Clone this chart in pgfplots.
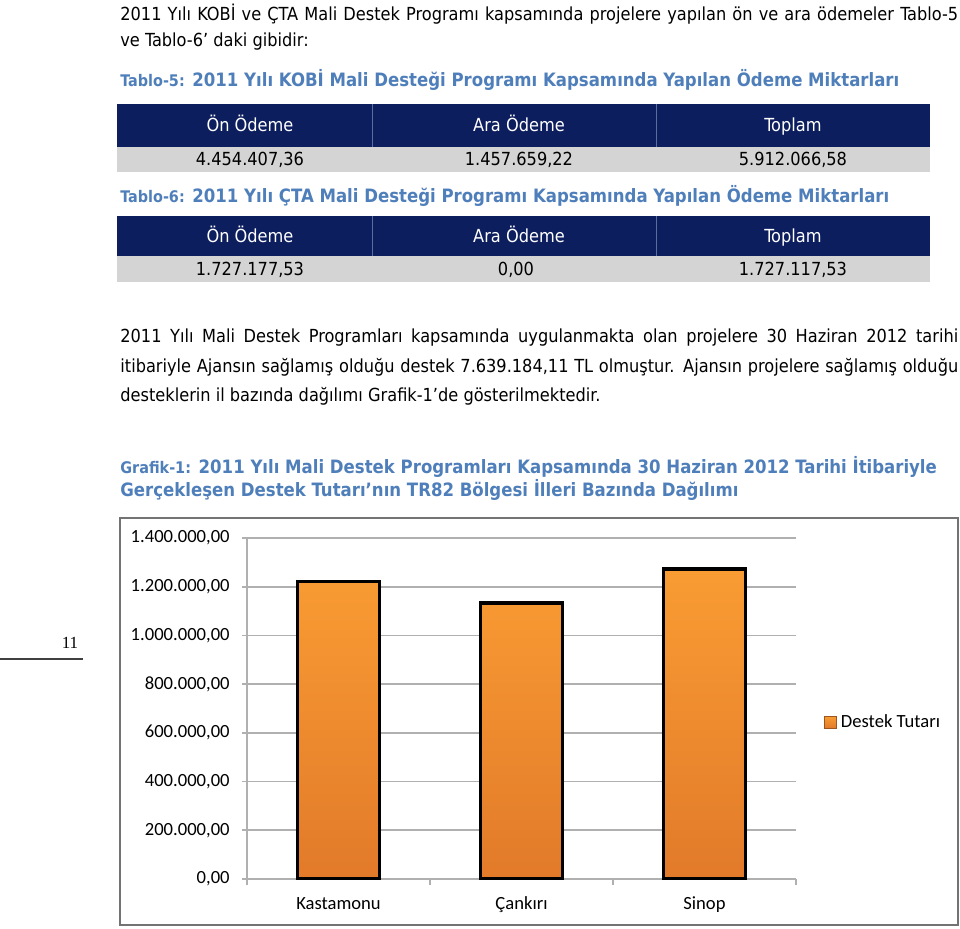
\documentclass[border=0pt]{standalone}
\usepackage{fontspec}
\setmainfont{DejaVu Sans Condensed}
\newfontfamily\carlito{Carlito}
\newfontfamily\serifnum{Liberation Serif}
\usepackage{pgfplots}
\pgfplotsset{compat=1.18}

\definecolor{navy}{HTML}{0C1E5E}
\definecolor{rowgray}{HTML}{D4D4D4}
\definecolor{capblue}{HTML}{4F7FBA}
\definecolor{sepblue}{HTML}{5A6E9E}
\definecolor{gridgray}{HTML}{B0B0B0}
\definecolor{orangeTop}{HTML}{F99C33}
\definecolor{orangeBot}{HTML}{E27A2A}

\newcommand\body{\fontsize{9}{11}\selectfont}
\newcommand\capt{\color{capblue}\bfseries\fontsize{9.2}{11}\selectfont}
\newcommand\capsmall{\fontsize{8}{10}\selectfont}
\newcommand\chartfont{\carlito\fontsize{9.3}{11}\selectfont}

\tikzset{cell/.style={font=\body, text height=7pt, text depth=2pt, inner sep=0pt}}

\begin{document}
\begin{tikzpicture}
\begin{scope}[x=0.5pt,y=-0.5pt]
\useasboundingbox (0,0) rectangle (960,928);
\fill[white] (0,0) rectangle (960,928);

% opening text
\node[anchor=west,inner sep=0pt,font=\body] at (120,14)
  {\makebox[419pt][s]{2011 Yılı KOBİ ve ÇTA Mali Destek Programı kapsamında projelere yapılan ön ve ara ödemeler Tablo-5}};
\node[anchor=west,inner sep=0pt,font=\body] at (120,42) {ve Tablo-6’ daki gibidir:};

% Tablo-5
\node[anchor=west,inner sep=0pt,font=\capt] at (120,80)
  {{\capsmall Tablo-5:} 2011 Yılı KOBİ Mali Desteği Programı Kapsamında Yapılan Ödeme Miktarları};
\fill[navy] (117,104) rectangle (930,147);
\fill[rowgray] (117,147) rectangle (930,172);
\draw[sepblue,line width=0.4pt] (372,104) -- (372,147) (656,104) -- (656,147);
\node[cell,text=white] at (250,126) {Ön Ödeme};
\node[cell,text=white] at (519,126) {Ara Ödeme};
\node[cell,text=white] at (793,126) {Toplam};
\node[cell] at (250,160) {4.454.407,36};
\node[cell] at (519,160) {1.457.659,22};
\node[cell] at (793,160) {5.912.066,58};

% Tablo-6
\node[anchor=west,inner sep=0pt,font=\capt] at (120,196)
  {{\capsmall Tablo-6:} 2011 Yılı ÇTA Mali Desteği Programı Kapsamında Yapılan Ödeme Miktarları};
\fill[navy] (117,216) rectangle (930,256);
\fill[rowgray] (117,256) rectangle (930,282);
\draw[sepblue,line width=0.4pt] (372,216) -- (372,256) (656,216) -- (656,256);
\node[cell,text=white] at (250,237) {Ön Ödeme};
\node[cell,text=white] at (519,237) {Ara Ödeme};
\node[cell,text=white] at (793,237) {Toplam};
\node[cell] at (250,270) {1.727.177,53};
\node[cell] at (516,270) {0,00};
\node[cell] at (793,270) {1.727.117,53};

% paragraph
\node[anchor=west,inner sep=0pt,font=\body] at (120,338)
  {\makebox[419pt][s]{2011 Yılı Mali Destek Programları kapsamında uygulanmakta olan projelere 30 Haziran 2012 tarihi}};
\node[anchor=west,inner sep=0pt,font=\body] at (120,367)
  {\makebox[419pt][s]{itibariyle Ajansın sağlamış olduğu destek 7.639.184,11 TL olmuştur. Ajansın projelere sağlamış olduğu}};
\node[anchor=west,inner sep=0pt,font=\body] at (120,396)
  {desteklerin il bazında dağılımı Grafik-1’de gösterilmektedir.};

% Grafik-1 caption
\node[anchor=west,inner sep=0pt,font=\capt] at (120,467)
  {{\capsmall Grafik-1:} 2011 Yılı Mali Destek Programları Kapsamında 30 Haziran 2012 Tarihi İtibariyle};
\node[anchor=west,inner sep=0pt,font=\capt] at (120,490)
  {Gerçekleşen Destek Tutarı’nın TR82 Bölgesi İlleri Bazında Dağılımı};

% page number
\node[font=\serifnum\fontsize{8.5}{10}\selectfont] at (70,643) {11};
\draw[black!75,line width=0.6pt] (0,659) -- (83,659);

% chart frame
\draw[black!55,line width=0.7pt] (120,518) rectangle (958,925);
\end{scope}

\begin{axis}[
  at={(123.5pt,-439.5pt)}, anchor=south west,
  scale only axis, width=274.5pt, height=170.5pt,
  xmin=-0.5, xmax=2.5, ymin=0, ymax=1400000,
  scaled y ticks=false,
  axis x line*=bottom, axis y line*=left,
  axis line style={draw=gridgray, line width=0.8pt},
  ytick={0,200000,400000,600000,800000,1000000,1200000,1400000},
  yticklabels={{0,00},{200.000,00},{400.000,00},{600.000,00},{800.000,00},{1.000.000,00},{1.200.000,00},{1.400.000,00}},
  ymajorgrids, grid style={draw=gridgray, line width=0.8pt},
  xtick={0,1,2}, xticklabels={Kastamonu,Çankırı,Sinop},
  minor xtick={-0.5,0.5,1.5,2.5},
  tick align=outside, major tick length=2.5pt, minor tick length=3pt,
  major x tick style={draw=none},
  minor x tick style={draw=gridgray, line width=0.8pt},
  ytick style={draw=gridgray, line width=0.8pt},
  tick label style={font=\chartfont, text=black},
  yticklabel style={inner sep=0pt, xshift=-6pt},
  xticklabel style={inner sep=0pt, yshift=-5.5pt, text height=7pt, text depth=2pt},
  legend style={at={(1.04,0.46)}, anchor=west, draw=none, fill=none, font=\chartfont},
  legend image code/.code={\draw[draw=orangeBot!70!black, line width=0.3pt, top color=orangeTop, bottom color=orangeBot] (0pt,-3pt) rectangle (6pt,3pt);},
]
\addplot[ybar, bar width=41pt, draw=black, line width=1.6pt, top color=orangeTop, bottom color=orangeBot]
  coordinates {(0,1222000) (1,1133000) (2,1273000)};
\addlegendentry{Destek Tutarı}
\end{axis}
\end{tikzpicture}
\end{document}
